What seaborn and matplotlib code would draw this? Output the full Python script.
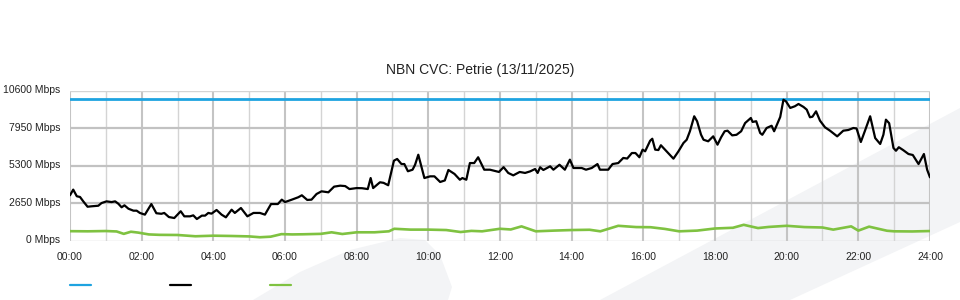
import matplotlib
matplotlib.use("Agg")
import matplotlib.pyplot as plt
from matplotlib.lines import Line2D
from matplotlib.patches import Polygon
from matplotlib.transforms import ScaledTranslation
import pandas as pd
import seaborn as sns

sns.set_theme(style="white")
plt.rcParams['font.family'] = ['Liberation Sans', 'DejaVu Sans']

title = "NBN CVC: Petrie (13/11/2025)"
y_ticks = [0, 2650, 5300, 7950, 10600]
x_ticks = list(range(0, 25, 2))
x_labels = [f"{h:02d}:00" for h in x_ticks]

capacity_t = [0.0, 24.0]
capacity_v = [10000, 10000]

down_t = [0.00, 0.09, 0.19, 0.28, 0.37, 0.49, 0.60, 0.79, 0.88, 1.02, 1.16, 1.26, 1.35, 1.44, 1.52,
          1.63, 1.77, 1.86, 1.95, 2.09, 2.27, 2.41, 2.55, 2.63, 2.76, 2.91, 2.98, 3.09, 3.19, 3.35,
          3.44, 3.54, 3.68, 3.77, 3.86, 3.95, 4.09, 4.23, 4.35, 4.51, 4.60, 4.77, 4.95, 5.12, 5.30,
          5.44, 5.61, 5.80, 5.91, 6.00, 6.19, 6.37, 6.47, 6.62, 6.74, 6.88, 7.02, 7.21, 7.37, 7.54,
          7.68, 7.80, 8.00, 8.15, 8.31, 8.39, 8.46, 8.65, 8.75, 8.88, 9.04, 9.13, 9.25, 9.33, 9.43,
          9.56, 9.63, 9.72, 9.89, 10.05, 10.17, 10.33, 10.46, 10.56, 10.73, 10.88, 10.95, 11.06, 11.16, 11.28,
          11.39, 11.56, 11.72, 11.97, 12.10, 12.23, 12.37, 12.55, 12.70, 12.84, 12.98, 13.05, 13.12, 13.21, 13.40,
          13.49, 13.66, 13.81, 13.95, 14.05, 14.28, 14.40, 14.56, 14.72, 14.79, 15.02, 15.14, 15.30, 15.44, 15.55,
          15.68, 15.78, 15.89, 15.98, 16.05, 16.19, 16.25, 16.33, 16.42, 16.49, 16.65, 16.84, 16.98, 17.12, 17.21,
          17.30, 17.42, 17.50, 17.61, 17.68, 17.81, 17.95, 18.07, 18.17, 18.27, 18.35, 18.48, 18.60, 18.73, 18.84,
          19.00, 19.05, 19.15, 19.26, 19.32, 19.44, 19.58, 19.65, 19.82, 19.91, 19.98, 20.10, 20.23, 20.33, 20.47,
          20.56, 20.65, 20.72, 20.82, 20.93, 21.07, 21.21, 21.41, 21.58, 21.72, 21.86, 21.95, 22.07, 22.18, 22.33,
          22.47, 22.61, 22.70, 22.77, 22.86, 22.98, 23.05, 23.13, 23.25, 23.40, 23.52, 23.68, 23.83, 23.92, 24.00]
down_v = [3200, 3600, 3130, 3080, 2770, 2390, 2420, 2460, 2650, 2770, 2720, 2770, 2600, 2350, 2490,
          2250, 2110, 2110, 1950, 1830, 2580, 1930, 1890, 1950, 1660, 1590, 1780, 2070, 1710, 1710,
          1780, 1520, 1760, 1760, 1950, 1900, 2160, 1830, 1640, 2180, 1950, 2300, 1710, 1950, 1950,
          1830, 2580, 2580, 2890, 2720, 2890, 3060, 3200, 2870, 2890, 3290, 3480, 3410, 3810, 3880,
          3850, 3640, 3710, 3700, 3640, 4420, 3710, 4120, 4080, 3910, 5650, 5770, 5410, 5410, 4900,
          5010, 5360, 6070, 4420, 4540, 4540, 4140, 4250, 4990, 4710, 4300, 4420, 4300, 5480, 5480,
          5890, 5010, 5010, 4850, 5190, 4780, 4610, 4850, 4780, 4890, 5060, 4780, 5180, 4990, 5250,
          5010, 5360, 5010, 5720, 5130, 5130, 5010, 5130, 5410, 5010, 5010, 5410, 5480, 5840, 5800,
          6190, 6190, 5890, 6430, 6310, 7060, 7200, 6430, 6400, 6740, 6310, 5790, 6310, 6900, 7130,
          7730, 8790, 8440, 7490, 7130, 7020, 7370, 6780, 7300, 7730, 7770, 7440, 7480, 7730, 8310,
          8670, 8390, 8440, 7610, 7480, 7960, 8120, 7730, 8740, 9960, 9850, 9380, 9500, 9660, 9450,
          9260, 8720, 8760, 9140, 8480, 8010, 7770, 7370, 7770, 7820, 7960, 7930, 6970, 7730, 8790,
          7250, 6830, 7490, 8550, 8300, 6550, 6350, 6600, 6400, 6120, 6050, 5410, 6120, 5010, 4470]

up_t = [0.0, 0.5, 1.0, 1.3, 1.5, 1.7, 1.9, 2.2, 2.5, 3.0, 3.5, 4.0, 4.5, 5.0, 5.3, 5.6, 5.9, 6.2, 6.5,
        7.0, 7.3, 7.6, 8.0, 8.5, 8.9, 9.05, 9.5, 10.0, 10.5, 10.9, 11.2, 11.5, 12.0, 12.3, 12.6, 13.0,
        13.5, 14.0, 14.5, 14.8, 15.3, 15.8, 16.2, 16.6, 17.0, 17.5, 18.0, 18.5, 18.8, 19.2, 19.5, 20.0,
        20.5, 21.0, 21.3, 21.8, 22.0, 22.3, 22.8, 23.0, 23.5, 24.0]
up_v = [660, 650, 670, 640, 470, 620, 560, 430, 400, 390, 300, 340, 320, 290, 230, 270, 450, 430, 440,
        470, 580, 460, 580, 580, 650, 830, 770, 770, 740, 600, 680, 650, 830, 780, 1000, 650,
        700, 740, 760, 650, 1040, 950, 940, 820, 650, 700, 850, 900, 1110, 880, 960, 1040,
        950, 920, 770, 1000, 700, 980, 690, 650, 640, 670]

BLUE = "#1ea3e0"
BLACK = "#000000"
GREEN = "#7fc241"
DECOR = "#f3f4f6"

fig = plt.figure(figsize=(9.6, 3.0), dpi=100)
fig.patch.set_facecolor("white")

W, H = 960.0, 300.0
def fc(pts):
    return [(x / W, 1 - y / H) for x, y in pts]

# background decoration shapes
fig.patches.append(Polygon(fc([(600, 300), (960, 108), (960, 222), (790, 300)]),
                           closed=True, transform=fig.transFigure, facecolor=DECOR,
                           edgecolor="none", zorder=-10))
fig.patches.append(Polygon(fc([(253, 300), (300, 272), (350, 250), (400, 238), (425, 240),
                               (440, 255), (452, 287), (448, 300)]),
                           closed=True, transform=fig.transFigure, facecolor=DECOR,
                           edgecolor="none", zorder=-10))

ax = fig.add_axes([70 / W, 1 - 240.5 / H, 860 / W, 149.8 / H])
ax.set_facecolor("none")

cap_df = pd.DataFrame({"t": capacity_t, "v": capacity_v})
down_df = pd.DataFrame({"t": down_t, "v": down_v})
up_df = pd.DataFrame({"t": up_t, "v": up_v})

sns.lineplot(data=cap_df, x="t", y="v", ax=ax, color=BLUE, lw=2.0, zorder=5)
sns.lineplot(data=down_df, x="t", y="v", ax=ax, color=BLACK, lw=1.6, zorder=6)
sns.lineplot(data=up_df, x="t", y="v", ax=ax, color=GREEN, lw=1.9, zorder=4)

ax.set_xlim(0, 24)
ax.set_ylim(0, 10600)
ax.set_xlabel("")
ax.set_ylabel("")

ax.set_yticks(y_ticks)
ax.set_yticklabels([f"{v} Mbps" for v in y_ticks], fontsize=7.5, color="#222222")
ax.set_xticks(x_ticks)
ax.set_xticklabels(x_labels, fontsize=7.5, color="#222222")
ax.set_xticks(list(range(1, 24, 2)), minor=True)

ax.tick_params(axis="y", length=0, pad=7)
ax.tick_params(axis="x", which="major", length=7, width=1.5, color="#c4c4c4", pad=1.5)
ax.tick_params(axis="x", which="minor", length=0)

offset = ScaledTranslation(0, 1.5 / 100, fig.dpi_scale_trans)
for lab in ax.get_yticklabels():
    lab.set_transform(lab.get_transform() + offset)

for s in ax.spines.values():
    s.set_visible(False)

ax.grid(True, axis="y", which="major", color="#c2c2c2", lw=1.6, zorder=0)
ax.grid(True, axis="x", which="major", color="#c4c4c4", lw=1.5, zorder=0)
ax.grid(True, axis="x", which="minor", color="#d4d4d4", lw=1.0, zorder=0)
ygl = ax.get_ygridlines()
for i in (0, len(ygl) - 1):
    ygl[i].set_color("#d4d4d4")
    ygl[i].set_linewidth(1.0)
ax.set_axisbelow(True)

fig.text(0.5, 1 - 70 / H, title, ha="center", va="center", fontsize=10, color="#222222")

# legend keys (no labels)
for x0, c in zip([70, 170, 270], [BLUE, BLACK, GREEN]):
    fig.add_artist(Line2D([x0 / W, (x0 + 21) / W], [1 - 285 / H, 1 - 285 / H],
                          transform=fig.transFigure, color=c, lw=1.6))

fig.savefig("out.png", dpi=100)
